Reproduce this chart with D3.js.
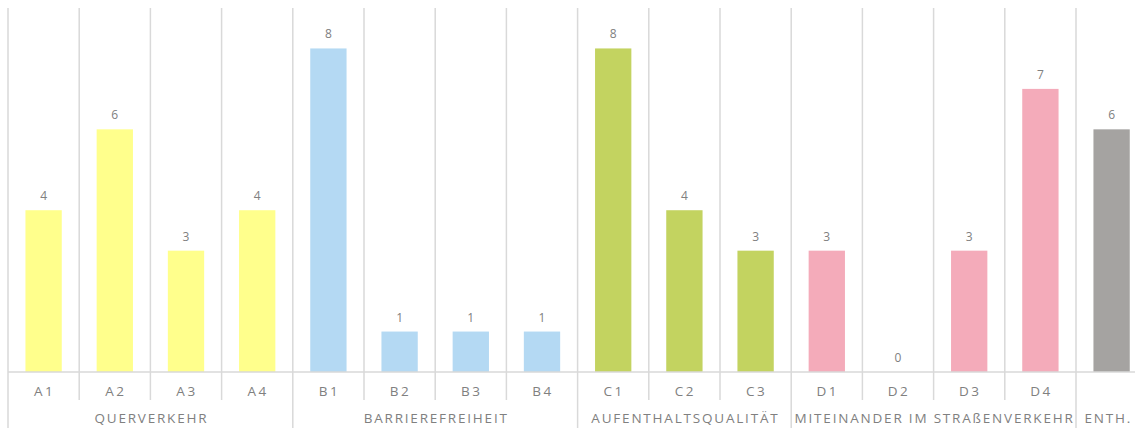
<!DOCTYPE html>
<html>
<head>
<meta charset="utf-8">
<script src="https://cdn.jsdelivr.net/npm/d3@7"></script>
<style>
  body { margin: 0; background: #fff; }
  svg { display: block; font-family: "Open Sans", sans-serif; }
</style>
</head>
<body>
<svg id="chart" width="1135" height="430"></svg>
<script>
// categories and values
var categories = ["A1", "A2", "A3", "A4", "B1", "B2", "B3", "B4", "C1", "C2", "C3", "D1", "D2", "D3", "D4", ""];
var values = [4, 6, 3, 4, 8, 1, 1, 1, 8, 4, 3, 3, 0, 3, 7, 6];
var groupOf = ["A", "A", "A", "A", "B", "B", "B", "B", "C", "C", "C", "D", "D", "D", "D", "E"];
var groups = ["A", "B", "C", "D", "E"];
var groupLabels = ["QUERVERKEHR", "BARRIEREFREIHEIT", "AUFENTHALTSQUALITÄT", "MITEINANDER IM STRAßENVERKEHR", "ENTH."];
var groupColors = ["#ffff8c", "#b4d9f3", "#c3d360", "#f4abba", "#a5a3a1"];

var margin = {left: 8, top: 8};
var step = 71.2;
var baseY = 372;
var chartW = 1135;

var svg = d3.select("#chart");

var data = categories.map(function(c, i) {
  return {key: i, cat: c, value: values[i], group: groupOf[i]};
});

// x scale: one band per category, no padding, so band edges are the gridlines
var xScale = d3.scaleBand()
  .domain(d3.range(categories.length))
  .range([margin.left, margin.left + step * categories.length])
  .padding(0);

var yScale = d3.scaleLinear()
  .domain([0, 9])
  .range([baseY, margin.top]);

var color = d3.scaleOrdinal().domain(groups).range(groupColors);

var gridColor = "#d9d9d9";
var textColor = "#808080";

// vertical gridlines at every category edge
svg.append("g").selectAll("line")
  .data(data)
  .enter()
  .append("line")
  .attr("x1", d => xScale(d.key))
  .attr("x2", d => xScale(d.key))
  .attr("y1", yScale(9))
  .attr("y2", baseY)
  .attr("stroke", gridColor)
  .attr("stroke-width", 1.5);

// bars
var barW = xScale.bandwidth() * 0.51;
svg.append("g").selectAll("rect")
  .data(data)
  .enter()
  .append("rect")
  .attr("x", d => xScale(d.key) + (xScale.bandwidth() - barW) / 2)
  .attr("y", d => yScale(d.value))
  .attr("width", barW)
  .attr("height", d => baseY - yScale(d.value))
  .attr("fill", d => color(d.group));

// value labels
svg.append("g").selectAll("text")
  .data(data)
  .enter()
  .append("text")
  .attr("x", d => xScale(d.key) + xScale.bandwidth() / 2)
  .attr("y", d => yScale(d.value) - 10)
  .attr("text-anchor", "middle")
  .style("font-size", "12px")
  .style("fill", textColor)
  .text(d => d.value);

// axis baseline
svg.append("line")
  .attr("x1", margin.left)
  .attr("x2", chartW)
  .attr("y1", baseY)
  .attr("y2", baseY)
  .attr("stroke", gridColor)
  .attr("stroke-width", 1.5);

// first level dividers and category labels
var isGroupStart = function(d, i) { return i === 0 || groupOf[i - 1] !== d.group; };

svg.append("g").selectAll("line")
  .data(data)
  .enter()
  .append("line")
  .attr("x1", d => xScale(d.key))
  .attr("x2", d => xScale(d.key))
  .attr("y1", baseY)
  .attr("y2", (d, i) => isGroupStart(d, i) ? 428 : 400)
  .attr("stroke", gridColor)
  .attr("stroke-width", 1.5);

svg.append("g").selectAll("text")
  .data(data)
  .enter()
  .append("text")
  .attr("x", d => xScale(d.key) + xScale.bandwidth() / 2 + 1)
  .attr("y", 396)
  .attr("text-anchor", "middle")
  .style("font-size", "13.5px")
  .style("letter-spacing", "2.5px")
  .style("fill", textColor)
  .text(d => d.cat);

// second level: group labels centred under their categories
var groupData = groups.map(function(g, i) {
  var members = data.filter(d => d.group === g);
  var x0 = xScale(members[0].key);
  var x1 = xScale(members[members.length - 1].key) + xScale.bandwidth();
  return {label: groupLabels[i], mid: (x0 + x1) / 2};
});

svg.append("g").selectAll("text")
  .data(groupData)
  .enter()
  .append("text")
  .attr("x", d => d.mid + 1)
  .attr("y", 423)
  .attr("text-anchor", "middle")
  .style("font-size", "13.5px")
  .style("letter-spacing", "1.8px")
  .style("fill", textColor)
  .text(d => d.label)
  .each(function(d) {
    // keep the last label inside the visible area
    var w = this.getComputedTextLength();
    if (d.mid + w / 2 > chartW - 3) {
      d3.select(this).attr("x", chartW - 3 - w / 2);
    }
  });
</script>
</body>
</html>
